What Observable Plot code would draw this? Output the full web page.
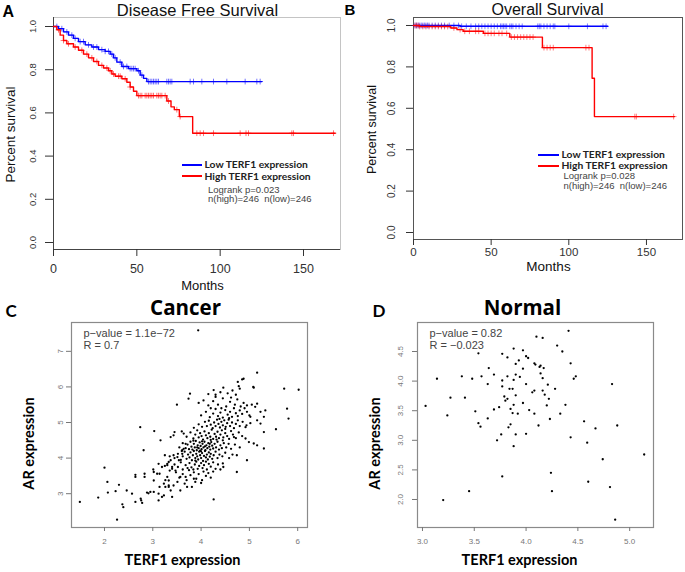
<!DOCTYPE html>
<html><head><meta charset="utf-8">
<script src="https://cdn.jsdelivr.net/npm/d3@7"></script>
<script src="https://cdn.jsdelivr.net/npm/@observablehq/plot@0.6"></script>
<style>
html,body{margin:0;padding:0;background:#fff;}
#fig{position:relative;width:685px;height:572px;overflow:hidden;background:#fff;}
#fig svg{position:absolute;}
.sw{position:absolute;height:1.6px;}
</style></head><body><div id="fig"></div>
<script>
// ---------- Data ----------
// Disease free survival (months, survival probability) step points
const dfsLowT  = [0,3,6,9,12,15,19,23,27,31,34,36,38,41,45,50,52,54,56,125];
const dfsLowS  = [1,0.99,0.975,0.96,0.945,0.93,0.915,0.905,0.893,0.885,0.872,0.855,0.835,0.815,0.805,0.795,0.775,0.76,0.745,0.745];
const dfsHighT = [0,2,4,6,8,12,15,18,21,24,27,30,33,35,37,41,44,46,48,50,68,70.5,72.5,75.5,83.5,169];
const dfsHighS = [1,0.985,0.96,0.935,0.92,0.905,0.89,0.872,0.855,0.838,0.82,0.808,0.795,0.78,0.77,0.758,0.742,0.72,0.7,0.68,0.655,0.628,0.615,0.583,0.506,0.506];
const dfsLowCens  = [2,5,8,11,13,16,18,21,24,26,29,31,33,35,37,40,42,44,46,47,48,49,51,53,57,58,59,60,61,62,63,68,69,70,71,82,84,89,96,104,115,122,124];
const dfsHighCens = [3,6,9,13,17,20,23,26,29,32,34,36,39,40,43,46,51,52,53,55,56,57,58,59,60,62,63,64,65,67,69,74,76,86,88,90,96,112,115.5,117,143,144,168];
// Overall survival
const osLowT  = [0,30,125];
const osLowS  = [1,0.996,0.996];
const osHighT = [0,4,24,28,32,45,62,83,115,116.5,168];
const osHighS = [1,0.995,0.988,0.98,0.972,0.962,0.944,0.893,0.745,0.56,0.56];
const osLowCens  = [1,2,3,4,5,6,7,8,9,10,12,14,16,18,20,23,26,29,31,34,37,40,42,44,46,48,50,52,54,56,57,58,59,60,62,63,64,66,68,70,80,81,82,84,86,88,90,91,100,112,122,124];
const osHighCens = [1,2,3,4,6,8,10,12,14,16,18,20,22,26,30,33,36,40,42,46,48,50,52,55,57,60,63,65,67,69,71,73,75,77,84,86,88,90,111,113,142.5,143.5,167.5];
const survTicks  = [0,0.2,0.4,0.6,0.8,1.0];
const monthTicks = [0,50,100,150];

// Cancer: TERF1 expression vs AR expression
const cancerPts = [
[1.49,2.77],[1.87,2.89],[2.0,3.73],[2.06,3.33],[2.07,3.03],[2.23,3.07],[2.26,2.27],[2.30,3.25],[2.46,3.09],[2.37,2.70],[2.39,2.62],[2.57,3.0],[2.64,2.77],[2.64,3.53],[2.64,3.47],[2.74,4.87],[2.76,2.81],[2.78,2.74],[2.81,4.22],[2.83,3.56],[2.83,3.47],[2.88,3.03],[2.91,3.01],[3.02,3.61],[3.02,3.05],[3.03,4.76],[3.12,2.81],[3.14,3.56],[3.16,4.5],[3.19,2.91],[3.23,2.95],[3.25,4.08],[3.26,3.38],[3.30,3.8],[3.33,3.89],[3.33,3.23],[3.33,3.19],[3.37,4.59],[3.40,2.91],[3.43,4.64],[3.45,4.73],[3.50,5.50],[3.57,3.09],[3.61,4.22],[3.64,4.69],[3.68,3.47],[3.71,3.19],[3.74,5.67],[3.77,5.81],[3.81,3.19],[3.85,3.42],[3.94,7.59],[4.26,2.84],[4.26,5.91],[4.46,5.98],[4.76,6.14],[4.88,6.23],[4.78,6.02],[4.85,6.21],[5.16,6.40],[5.09,5.98],[4.95,3.94],[4.74,3.61],[4.74,4.08],[4.99,4.45],[5.16,4.36],[5.30,4.27],[5.30,4.73],[5.30,5.16],[5.33,5.34],[5.16,5.53],[5.55,4.81],[5.72,5.95],[5.78,5.39],[5.81,5.11],[6.02,5.92],[5.02,5.16],[5.23,5.30],[5.16,5.06],[5.09,4.41],[4.68,4.59],[4.92,4.87],[5.12,5.44],[5.23,4.97],[4.46,3.75],
[3.01,3.68],[3.12,3.84],[3.30,3.84],[3.37,3.94],[3.40,3.75],[3.33,3.37],[3.23,3.28],[3.14,3.19],[3.12,3.0],[2.95,3.05],[2.75,2.86],[3.02,3.37],[3.09,3.56],[3.26,3.19],[3.37,3.09],[3.43,3.23],[3.51,3.33],[3.57,3.47],[3.47,3.65],[3.54,3.94],[3.61,4.12],[3.64,4.26],[3.68,4.40],[3.43,4.08],[3.51,4.03],[3.30,3.47],[3.19,3.75],
[3.55,3.45],[3.62,3.55],[3.7,3.38],[3.78,3.52],[3.85,3.6],[3.9,3.42],[3.95,3.55],[4.02,3.38],[4.05,3.62],[4.1,3.5],[4.15,3.58],[4.2,3.45],[3.48,3.6],[3.66,3.28],[4.0,3.3],[3.88,3.33],[4.25,3.62],[3.75,3.66],
[3.4,3.7],[3.45,3.82],[3.52,3.75],[3.58,3.88],[3.62,3.68],[3.68,3.8],[3.72,3.72],[3.76,3.86],[3.8,3.74],[3.84,3.68],[3.87,3.82],[3.9,3.9],[3.93,3.7],[3.96,3.78],[4.0,3.86],[4.03,3.72],[4.06,3.8],[4.1,3.9],[4.12,3.68],[4.16,3.84],[4.2,3.76],[4.25,3.88],[4.3,3.7],[4.35,3.82],[4.45,3.85],[3.25,3.78],[3.35,3.65],[4.4,3.68],
[3.45,4.0],[3.52,4.12],[3.58,3.95],[3.62,4.05],[3.66,4.18],[3.7,3.98],[3.73,4.1],[3.76,4.02],[3.78,4.16],[3.81,3.94],[3.83,4.08],[3.85,4.2],[3.88,4.0],[3.9,4.12],[3.92,4.05],[3.94,3.96],[3.96,4.18],[3.98,4.08],[4.0,4.0],[4.02,4.14],[4.04,3.92],[4.06,4.06],[4.08,4.2],[4.1,4.02],[4.12,4.1],[4.14,3.96],[4.16,4.16],[4.18,4.04],[4.2,4.12],[4.23,3.98],[4.26,4.08],[4.3,4.18],[4.34,4.0],[4.38,4.1],[4.44,4.05],[4.5,4.15],[4.58,4.0],[3.35,4.05],[3.6,4.2],[4.65,4.1],[3.88,3.93],[4.0,4.19],
[3.55,4.3],[3.62,4.42],[3.68,4.28],[3.72,4.38],[3.75,4.25],[3.78,4.46],[3.8,4.32],[3.82,4.24],[3.85,4.4],[3.87,4.3],[3.89,4.48],[3.91,4.22],[3.93,4.36],[3.95,4.28],[3.97,4.44],[3.99,4.34],[4.01,4.25],[4.03,4.4],[4.05,4.3],[4.07,4.46],[4.09,4.22],[4.11,4.36],[4.13,4.28],[4.15,4.42],[4.17,4.32],[4.19,4.24],[4.21,4.45],[4.23,4.35],[4.25,4.27],[4.28,4.4],[4.31,4.3],[4.34,4.46],[4.37,4.24],[4.4,4.36],[4.43,4.28],[4.47,4.42],[4.52,4.3],[4.57,4.4],[4.62,4.26],[4.7,4.38],[4.8,4.3],[3.98,4.21],[4.08,4.33],[3.92,4.3],[4.18,4.4],[4.02,4.47],[3.84,4.49],
[3.7,4.6],[3.78,4.72],[3.84,4.55],[3.88,4.66],[3.92,4.78],[3.95,4.58],[3.98,4.7],[4.01,4.62],[4.04,4.52],[4.07,4.75],[4.1,4.64],[4.13,4.56],[4.16,4.7],[4.19,4.6],[4.22,4.8],[4.25,4.54],[4.28,4.68],[4.31,4.6],[4.34,4.74],[4.37,4.56],[4.4,4.66],[4.43,4.78],[4.46,4.58],[4.5,4.7],[4.54,4.62],[4.58,4.54],[4.62,4.76],[4.66,4.66],[4.72,4.56],[4.78,4.72],[4.85,4.62],[4.92,4.55],[3.6,4.75],[4.2,4.51],[4.32,4.52],[4.45,4.5],
[3.85,4.85],[3.95,4.95],[4.02,4.88],[4.08,5.02],[4.12,4.9],[4.16,5.05],[4.2,4.94],[4.24,4.84],[4.27,5.0],[4.3,4.9],[4.33,5.08],[4.36,4.96],[4.39,4.86],[4.42,5.02],[4.45,4.92],[4.48,5.06],[4.51,4.88],[4.54,4.98],[4.57,5.08],[4.6,4.9],[4.64,5.0],[4.68,4.84],[4.72,4.96],[4.76,5.06],[4.8,4.9],[4.86,5.02],[4.94,4.92],[5.02,4.98],[4.38,5.1],[4.5,4.82],
[4.0,5.2],[4.1,5.3],[4.18,5.15],[4.25,5.25],[4.3,5.38],[4.35,5.18],[4.4,5.28],[4.45,5.14],[4.5,5.35],[4.55,5.22],[4.6,5.3],[4.64,5.16],[4.68,5.4],[4.72,5.26],[4.76,5.18],[4.8,5.34],[4.85,5.24],[4.9,5.4],[4.95,5.3],[5.0,5.2],[4.42,5.4],[4.58,5.12],[4.2,5.4],
[3.95,5.55],[4.05,5.62],[4.15,5.48],[4.25,5.6],[4.35,5.5],[4.45,5.68],[4.52,5.45],[4.6,5.58],[4.7,5.5],[4.75,5.65],[4.82,5.45],[4.88,5.55],[4.95,5.48],[5.05,5.5],[4.3,5.72],[4.62,5.7],
[4.15,5.8],[4.3,5.78],[4.4,5.85],[4.55,5.82],[4.65,5.9],[4.72,5.78],[4.8,5.95],[5.08,6.0]
];
// Normal: TERF1 expression vs AR expression
const normalPts = [
[3.03,3.58],[3.14,4.04],[3.24,3.42],[3.27,3.72],[3.20,1.99],[3.38,4.08],[3.41,3.72],[3.48,4.04],[3.51,3.49],[3.54,4.47],[3.54,3.29],[3.56,3.23],[3.45,2.14],[3.57,4.08],[3.64,4.22],[3.63,3.95],[3.63,3.37],[3.69,4.11],[3.69,3.52],[3.72,3.0],[3.74,3.56],[3.76,3.10],[3.77,4.46],[3.77,4.01],[3.77,3.91],[3.79,3.74],[3.77,2.39],[3.80,3.67],[3.82,4.40],[3.82,4.08],[3.82,3.70],[3.84,3.87],[3.83,3.22],[3.85,3.27],[3.85,3.53],[3.87,3.87],[3.87,3.46],[3.88,3.60],[3.88,2.90],[3.88,4.02],[3.88,4.55],[3.90,4.11],[3.90,3.76],[3.90,3.10],[3.90,4.29],[3.92,3.45],[3.93,4.35],[3.94,4.07],[3.97,4.52],[3.97,4.21],[3.97,3.63],[4.0,3.11],[4.0,3.95],[4.0,4.42],[4.02,4.39],[4.03,3.51],[4.06,3.81],[4.08,3.84],[4.08,3.45],[4.08,4.30],[4.09,4.28],[4.10,4.75],[4.12,3.25],[4.13,4.24],[4.14,4.26],[4.14,4.13],[4.16,4.73],[4.16,4.05],[4.16,3.84],[4.17,4.22],[4.18,3.77],[4.20,3.59],[4.21,3.94],[4.22,3.70],[4.23,3.36],[4.24,2.45],[4.25,2.14],[4.28,3.87],[4.30,4.60],[4.33,3.45],[4.35,4.50],[4.38,3.60],[4.41,4.85],[4.43,4.30],[4.43,3.05],[4.46,4.04],[4.48,4.08],[4.56,3.32],[4.59,2.96],[4.60,2.30],[4.67,3.20],[4.74,2.68],[4.81,2.21],[4.83,3.95],[4.88,3.25],[4.86,1.66],[5.14,2.76]
];
const cancerXTicks = [2,3,4,5,6];
const cancerYTicks = [3,4,5,6,7];
const normalXTicks = [3.0,3.5,4.0,4.5,5.0];
const normalYTicks = [2.0,2.5,3.0,3.5,4.0,4.5];

// ---------- Helpers ----------
const SANS = "'Liberation Sans', Arial, sans-serif";
const CAL = "Lato, 'Open Sans', sans-serif";
const BLUE = "#0000ff", RED = "#ff0000";
function survAt(T, S, t) { let s = S[0]; for (let i = 0; i < T.length; i++) if (T[i] <= t) s = S[i]; return s; }
const steps = (T, S) => T.map((t, i) => ({t, s: S[i]}));
const cens = (T, S, C) => C.map(t => ({t, s: survAt(T, S, t)}));
function note(p, x, y, str, o = {}) {
  return Plot.text([str], {text: d => d, frameAnchor: "top-left",
    dx: x - p.left - p.ml, dy: y - p.top - p.mt,
    textAnchor: "start", lineAnchor: "bottom", fill: "#000", fontFamily: SANS, ...o});
}
const fig = document.getElementById("fig");
function place(p, svg) {
  svg.style.left = p.left + "px"; svg.style.top = p.top + "px";
  fig.appendChild(svg);
}
function swatch(x, y, w, color) {
  const d = document.createElement("div");
  d.className = "sw";
  d.style.left = x + "px"; d.style.top = (y - 0.8) + "px"; d.style.width = w + "px"; d.style.background = color;
  fig.appendChild(d);
}

const PA = {left: 0, top: 0, width: 342, height: 292, ml: 53, mt: 17, mr: 2, mb: 43};
const PB = {left: 342, top: 0, width: 343, height: 280, ml: 71, mt: 17, mr: 3, mb: 41};
const PC = {left: 0, top: 292, width: 342, height: 280, ml: 71, mt: 30, mr: 35, mb: 45};
const PD = {left: 342, top: 292, width: 343, height: 280, ml: 75, mt: 30, mr: 32, mb: 45};
const dims = p => ({width: p.width, height: p.height, marginLeft: p.ml, marginTop: p.mt, marginRight: p.mr, marginBottom: p.mb,
  style: {background: "transparent", overflow: "visible", fontFamily: SANS}});

// ---------- Panel A ----------
const aY = [-0.0324, 1.0417];
place(PA, Plot.plot({
  ...dims(PA),
  x: {domain: [0, 172.2], label: null},
  y: {domain: aY, label: null},
  marks: [
    Plot.frame({stroke: "#c4c4c4"}),
    Plot.ruleX([0], {stroke: "#444"}),
    Plot.ruleY([aY[0]], {stroke: "#444"}),
    Plot.axisX({ticks: monthTicks, tickSize: 7, tickPadding: 8, fontSize: 12.5, color: "#333", label: null}),
    Plot.axisY({ticks: survTicks, tickSize: 8, tickFormat: () => "", color: "#333", label: null}),
    Plot.text(survTicks, {y: d => d, text: d => d.toFixed(1), frameAnchor: "left", dx: -21, rotate: -90,
      textAnchor: "middle", lineAnchor: "middle", fontSize: 9.5, fill: "#333"}),
    Plot.dot(cens(dfsLowT, dfsLowS, dfsLowCens), {x: "t", y: "s", symbol: "plus", r: 2, stroke: BLUE, strokeOpacity: 0.55, strokeWidth: 1}),
    Plot.dot(cens(dfsHighT, dfsHighS, dfsHighCens), {x: "t", y: "s", symbol: "plus", r: 2, stroke: RED, strokeOpacity: 0.55, strokeWidth: 1}),
    Plot.line(steps(dfsLowT, dfsLowS), {x: "t", y: "s", curve: "step-after", stroke: BLUE, strokeWidth: 1.4}),
    Plot.line(steps(dfsHighT, dfsHighS), {x: "t", y: "s", curve: "step-after", stroke: RED, strokeWidth: 1.4}),
    note(PA, 2, 16, "A", {fontWeight: "bold", fontSize: 16}),
    note(PA, 197, 15, "Disease Free Survival", {textAnchor: "middle", fontSize: 16.5, fill: "#111"}),
    note(PA, 10, 134, "Percent survival", {textAnchor: "middle", lineAnchor: "middle", rotate: -90, fontSize: 13.5, fill: "#111"}),
    note(PA, 202, 289, "Months", {textAnchor: "middle", fontSize: 13, fill: "#111"}),
    note(PA, 204, 167, "Low TERF1 expression", {fontFamily: CAL, fontWeight: "bold", fontSize: 10.3, fill: "#222"}),
    note(PA, 204, 179, "High TERF1 expression", {fontFamily: CAL, fontWeight: "bold", fontSize: 10.3, fill: "#222"}),
    note(PA, 207.5, 192, "Logrank p=0.023", {fontSize: 9.5, fill: "#444"}),
    note(PA, 207.5, 201.5, "n(high)=246  n(low)=246", {fontSize: 9.5, fill: "#444"})
  ]
}));
swatch(182, 165, 20, BLUE);
swatch(182, 176, 20, RED);

// ---------- Panel B ----------
const bY = [-0.0338, 1.0386];
place(PB, Plot.plot({
  ...dims(PB),
  x: {domain: [0, 173.2], label: null},
  y: {domain: bY, label: null},
  marks: [
    Plot.frame({stroke: "#555"}),
    Plot.axisX({ticks: monthTicks, tickSize: 6, tickPadding: 2, fontSize: 11.5, color: "#333", label: null}),
    Plot.axisY({ticks: survTicks, tickSize: 7, tickFormat: () => "", color: "#333", label: null}),
    Plot.text(survTicks, {y: d => d, text: d => d.toFixed(1), frameAnchor: "left", dx: -22, rotate: -90,
      textAnchor: "middle", lineAnchor: "middle", fontSize: 10, fill: "#333"}),
    Plot.dot(cens(osLowT, osLowS, osLowCens), {x: "t", y: "s", symbol: "plus", r: 2, stroke: BLUE, strokeOpacity: 0.5, strokeWidth: 1}),
    Plot.dot(cens(osHighT, osHighS, osHighCens), {x: "t", y: "s", symbol: "plus", r: 2, stroke: RED, strokeOpacity: 0.5, strokeWidth: 1}),
    Plot.line(steps(osLowT, osLowS), {x: "t", y: "s", curve: "step-after", stroke: BLUE, strokeWidth: 1.4}),
    Plot.line(steps(osHighT, osHighS), {x: "t", y: "s", curve: "step-after", stroke: RED, strokeWidth: 1.4}),
    note(PB, 344, 14, "B", {fontWeight: "bold", fontSize: 15}),
    note(PB, 547, 14.5, "Overall Survival", {textAnchor: "middle", fontSize: 16, fill: "#111"}),
    note(PB, 371, 129, "Percent survival", {textAnchor: "middle", lineAnchor: "middle", rotate: -90, fontSize: 12.5, fill: "#111"}),
    note(PB, 548, 270, "Months", {textAnchor: "middle", fontSize: 13.5, fill: "#111"}),
    note(PB, 561, 157, "Low TERF1 expression", {fontFamily: CAL, fontWeight: "bold", fontSize: 10.3, fill: "#222"}),
    note(PB, 561, 168.5, "High TERF1 expression", {fontFamily: CAL, fontWeight: "bold", fontSize: 10.3, fill: "#222"}),
    note(PB, 563, 178.5, "Logrank p=0.028", {fontSize: 9.5, fill: "#444"}),
    note(PB, 563, 188, "n(high)=246  n(low)=246", {fontSize: 9.5, fill: "#444"})
  ]
}));
swatch(538, 155, 21, BLUE);
swatch(538, 166, 21, RED);

// ---------- Scatter panels ----------
function scatter(p, pts, xd, yd, xt, yt, fmt, ydx, letter, letterX, title, titleX, pval, rval) {
  return Plot.plot({
    ...dims(p),
    x: {domain: xd, label: null},
    y: {domain: yd, label: null},
    marks: [
      Plot.frame({stroke: "#8a8a8a", strokeWidth: 1.2}),
      Plot.axisX({ticks: xt, tickSize: 4, tickPadding: 7, fontSize: 8, tickFormat: fmt, color: "#777", label: null}),
      Plot.axisY({ticks: yt, tickSize: 5, tickFormat: () => "", color: "#777", label: null}),
      Plot.text(yt, {y: d => d, text: fmt, frameAnchor: "left", dx: ydx, rotate: -90,
        textAnchor: "middle", lineAnchor: "middle", fontSize: 8, fill: "#777"}),
      Plot.dot(pts, {x: d => d[0], y: d => d[1], r: 1.15, fill: "#000", stroke: null}),
      note(p, p.left + p.ml + 12, 336, pval, {fontSize: 11, fill: "#444"}),
      note(p, p.left + p.ml + 12, 348, rval, {fontSize: 11, fill: "#444"}),
      note(p, letterX, 316, letter, {fontFamily: CAL, fontWeight: "bold", fontSize: 17}),
      note(p, titleX, 314, title, {fontFamily: "'Open Sans', sans-serif", fontWeight: "bold", fontSize: 20.5, textAnchor: "middle"}),
      note(p, p.left + p.ml - 42, 443, "AR expression", {fontFamily: CAL, fontWeight: "bold", fontSize: 14.5, textAnchor: "middle", lineAnchor: "middle", rotate: -90}),
      note(p, titleX - 3, 564, "TERF1 expression", {fontFamily: CAL, fontWeight: "bold", fontSize: 14.5, textAnchor: "middle"})
    ]
  });
}
place(PC, scatter(PC, cancerPts, [1.317, 6.203], [2.05, 7.81], cancerXTicks, cancerYTicks, d => String(d), -11,
  "C", 5, "Cancer", 185, "p\u2212value = 1.1e\u221272", "R = 0.7"));
place(PD, scatter(PD, normalPts, [2.952, 5.23], [1.527, 4.99], normalXTicks, normalYTicks, d => d.toFixed(1), -17,
  "D", 372, "Normal", 522, "p\u2212value = 0.82", "R = \u22120.023"));
</script>
</body></html>
